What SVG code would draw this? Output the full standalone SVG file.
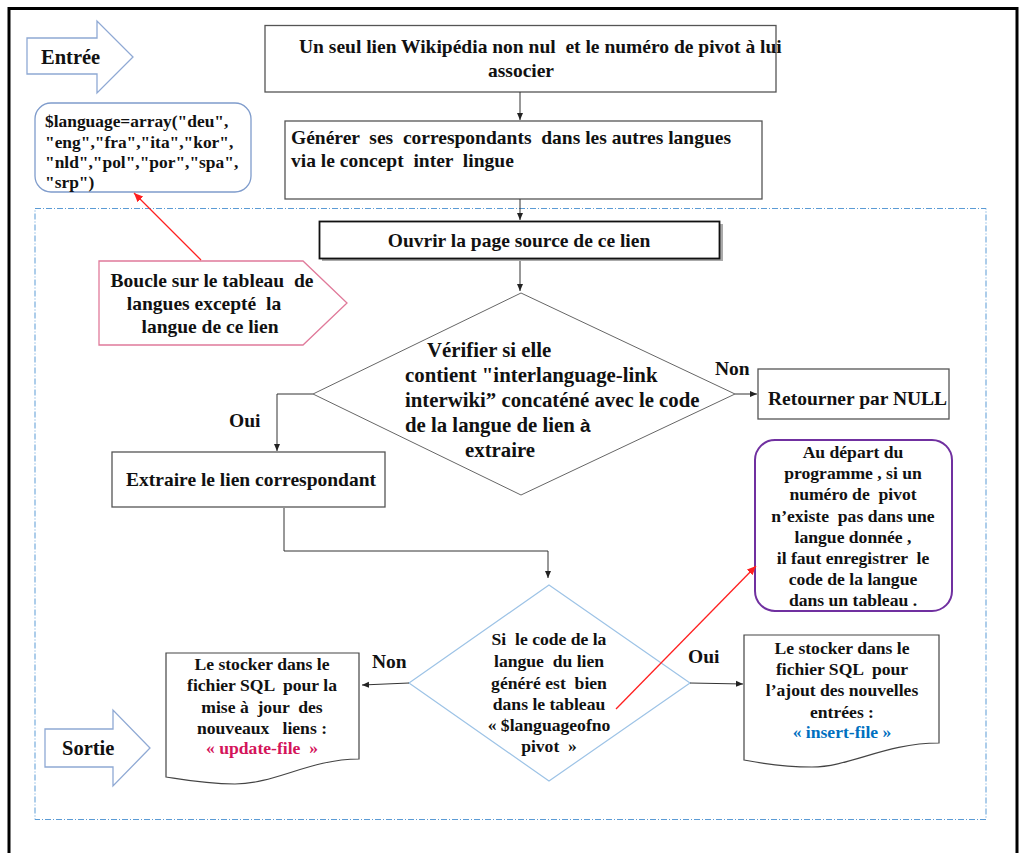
<svg xmlns="http://www.w3.org/2000/svg" width="1020" height="853" viewBox="0 0 1020 853">
<defs>
<style>
text{font-family:"Liberation Serif","Times New Roman",serif;font-weight:bold;fill:#111;white-space:pre}
.t17{font-size:19.5px}
.t18{font-size:19.5px}
.td{font-size:20.8px}
.tl{font-size:20.5px}
.t16{font-size:17.6px}
.t15{font-size:17.4px}
.c{text-anchor:middle}
.box{fill:#fff;stroke:#555;stroke-width:1.3}
.conn{fill:none;stroke:#333;stroke-width:1}
.red{fill:none;stroke:#ff2020;stroke-width:1.3}
.barrow{fill:#fff;stroke:#8fa9d4;stroke-width:1.3}
</style>
<marker id="ah" markerWidth="8" markerHeight="8" refX="7" refY="4" orient="auto" markerUnits="userSpaceOnUse">
<path d="M0,1 L7,4 L0,7 Z" fill="#222"/>
</marker>
<marker id="ahr" markerWidth="10" markerHeight="10" refX="9" refY="5" orient="auto" markerUnits="userSpaceOnUse">
<path d="M0,1 L9,5 L0,9 Z" fill="#ff2020"/>
</marker>
</defs>
<rect width="1020" height="853" fill="#fff"/>
<g id="frame">
<path d="M9,860 V8.5 H1017 V860" fill="none" stroke="#000" stroke-width="3"/>
<rect x="35" y="208.5" width="951" height="611" fill="none" stroke="#5b9bd5" stroke-width="1" stroke-dasharray="6,2,1,2"/>
</g>
<g id="entree">
<path class="barrow" d="M27,38 H97 V21 L133,57 L97,93 V74 H27 Z"/>
<text class="tl" x="41" y="64">Entrée</text>
</g>
<g id="language">
<rect x="35" y="103" width="216" height="89" rx="16" fill="#fff" stroke="#7f9ccc" stroke-width="1.3"/>
<text class="t15" x="45" y="127">$language=array("deu",</text>
<text class="t15" x="45" y="148">"eng","fra","ita","kor",</text>
<text class="t15" x="45" y="168">"nld","pol","por","spa",</text>
<text class="t15" x="45" y="188">"srp")</text>
</g>
<g id="lien">
<rect class="box" x="265" y="25.5" width="511" height="66.5"/>
<text class="t17" x="299" y="53">Un seul lien Wikipédia non nul  et le numéro de pivot à lui</text>
<text class="t17 c" x="521" y="77">associer</text>
</g>
<g id="generer">
<rect class="box" x="285" y="121" width="477" height="78"/>
<text class="t17" x="291" y="144">Générer  ses  correspondants  dans les autres langues</text>
<text class="t17" x="291" y="167">via le concept  inter  lingue</text>
</g>
<g id="ouvrir">
<rect x="322" y="224" width="401" height="37" fill="#aaa"/>
<rect x="319.5" y="221.5" width="400" height="37" fill="#fff" stroke="#111" stroke-width="1.8"/>
<text class="t17 c" x="519" y="247">Ouvrir la page source de ce lien</text>
</g>
<g id="boucle">
<path d="M99,261 H303 L347,303 L303,345 H99 Z" fill="#fff" stroke="#e07a9a" stroke-width="1.3"/>
<text class="t17 c" x="212" y="287">Boucle sur le tableau  de</text>
<text class="t17 c" x="204" y="310">langues excepté  la</text>
<text class="t17 c" x="210" y="333">langue de ce lien</text>
</g>
<g id="verifier">
<path d="M521,293 L735,394 L521,495 L313,394 Z" fill="#fff" stroke="#666" stroke-width="1"/>
<text class="td" x="427" y="357">Vérifier si elle</text>
<text class="td" x="405" y="382">contient "interlanguage-link</text>
<text class="td" x="405" y="407">interwiki” concaténé avec le code</text>
<text class="td" x="405" y="432">de la langue de lien <tspan style="font-family:'Liberation Sans',Arial,sans-serif;font-size:19px">à</tspan></text>
<text class="td" x="465" y="457">extraire</text>
</g>
<g id="retourner">
<rect class="box" x="758" y="369" width="191" height="50"/>
<text class="t18" x="768" y="405">Retourner par NULL</text>
</g>
<g id="depart">
<rect x="755" y="440" width="197" height="171" rx="20" fill="#fff" stroke="#7030a0" stroke-width="2"/>
<text class="t16 c" x="853" y="458">Au départ du</text>
<text class="t16 c" x="853" y="479">programme , si un</text>
<text class="t16 c" x="853" y="500">numéro de  pivot</text>
<text class="t16 c" x="853" y="522">n’existe  pas dans une</text>
<text class="t16 c" x="853" y="543">langue donnée ,</text>
<text class="t16 c" x="853" y="564">il faut enregistrer  le</text>
<text class="t16 c" x="853" y="585">code de la langue</text>
<text class="t16 c" x="853" y="606">dans un tableau .</text>
</g>
<g id="extraire">
<rect class="box" x="112" y="452" width="273" height="55"/>
<text class="t17" x="126" y="486">Extraire le lien correspondant</text>
</g>
<g id="si">
<path d="M549,585 L690,683 L549,781 L409,683 Z" fill="#fff" stroke="#9dc3e6" stroke-width="1.2"/>
<text class="t16 c" x="549" y="645">Si  le code de la</text>
<text class="t16 c" x="549" y="667">langue  du lien</text>
<text class="t16 c" x="549" y="689">généré est  bien</text>
<text class="t16 c" x="549" y="710">dans le tableau</text>
<text class="t16 c" x="549" y="731">« $languageofno</text>
<text class="t16 c" x="549" y="752">pivot  »</text>
</g>
<g id="update">
<path d="M166,653 H359 V759 C310,759 275,784 235,784 C205,784 185,780 166,777 Z" fill="#fff" stroke="#444" stroke-width="1.2"/>
<text class="t16 c" x="262" y="670">Le stocker dans le</text>
<text class="t16 c" x="262" y="691">fichier SQL  pour la</text>
<text class="t16 c" x="262" y="713">mise à  jour  des</text>
<text class="t16 c" x="262" y="734">nouveaux   liens :</text>
<text class="t16 c" x="262" y="754" style="fill:#d4145a">« update-file  »</text>
</g>
<g id="insert">
<path d="M744,635 H939 V743 C885,743 850,767 812,767 C785,767 765,764 744,760 Z" fill="#fff" stroke="#444" stroke-width="1.2"/>
<text class="t16 c" x="842" y="654">Le stocker dans le</text>
<text class="t16 c" x="842" y="675">fichier SQL  pour</text>
<text class="t16 c" x="842" y="696">l’ajout des nouvelles</text>
<text class="t16 c" x="842" y="718">entrées :</text>
<text class="t16 c" x="842" y="738" style="fill:#0070c0">« insert-file »</text>
</g>
<g id="sortie">
<path class="barrow" d="M45,729 H113 V710 L150,748 L113,786 V767 H45 Z"/>
<text class="tl" x="62" y="755">Sortie</text>
</g>
<g id="connectors">
<path class="conn" d="M520,92 V120" marker-end="url(#ah)"/>
<path class="conn" d="M520,199 V220" marker-end="url(#ah)"/>
<path class="conn" d="M520,261 V291" marker-end="url(#ah)"/>
<path class="conn" d="M735,394 H757" marker-end="url(#ah)"/>
<path class="conn" d="M313,394 H277 V451" marker-end="url(#ah)"/>
<path class="conn" d="M284,508 V551 H548 V578" marker-end="url(#ah)"/>
<path class="conn" d="M409,683 L362,685" marker-end="url(#ah)"/>
<path class="conn" d="M690,683 L743,684" marker-end="url(#ah)"/>
<path class="red" d="M201,260 L134,193" marker-end="url(#ahr)"/>
<path class="red" d="M616,709 L756,566" marker-end="url(#ahr)"/>
<text class="t18" x="715" y="375">Non</text>
<text class="t18" x="229" y="427">Oui</text>
<text class="t18" x="372" y="668">Non</text>
<text class="t18" x="688" y="663">Oui</text>
</g>
</svg>
